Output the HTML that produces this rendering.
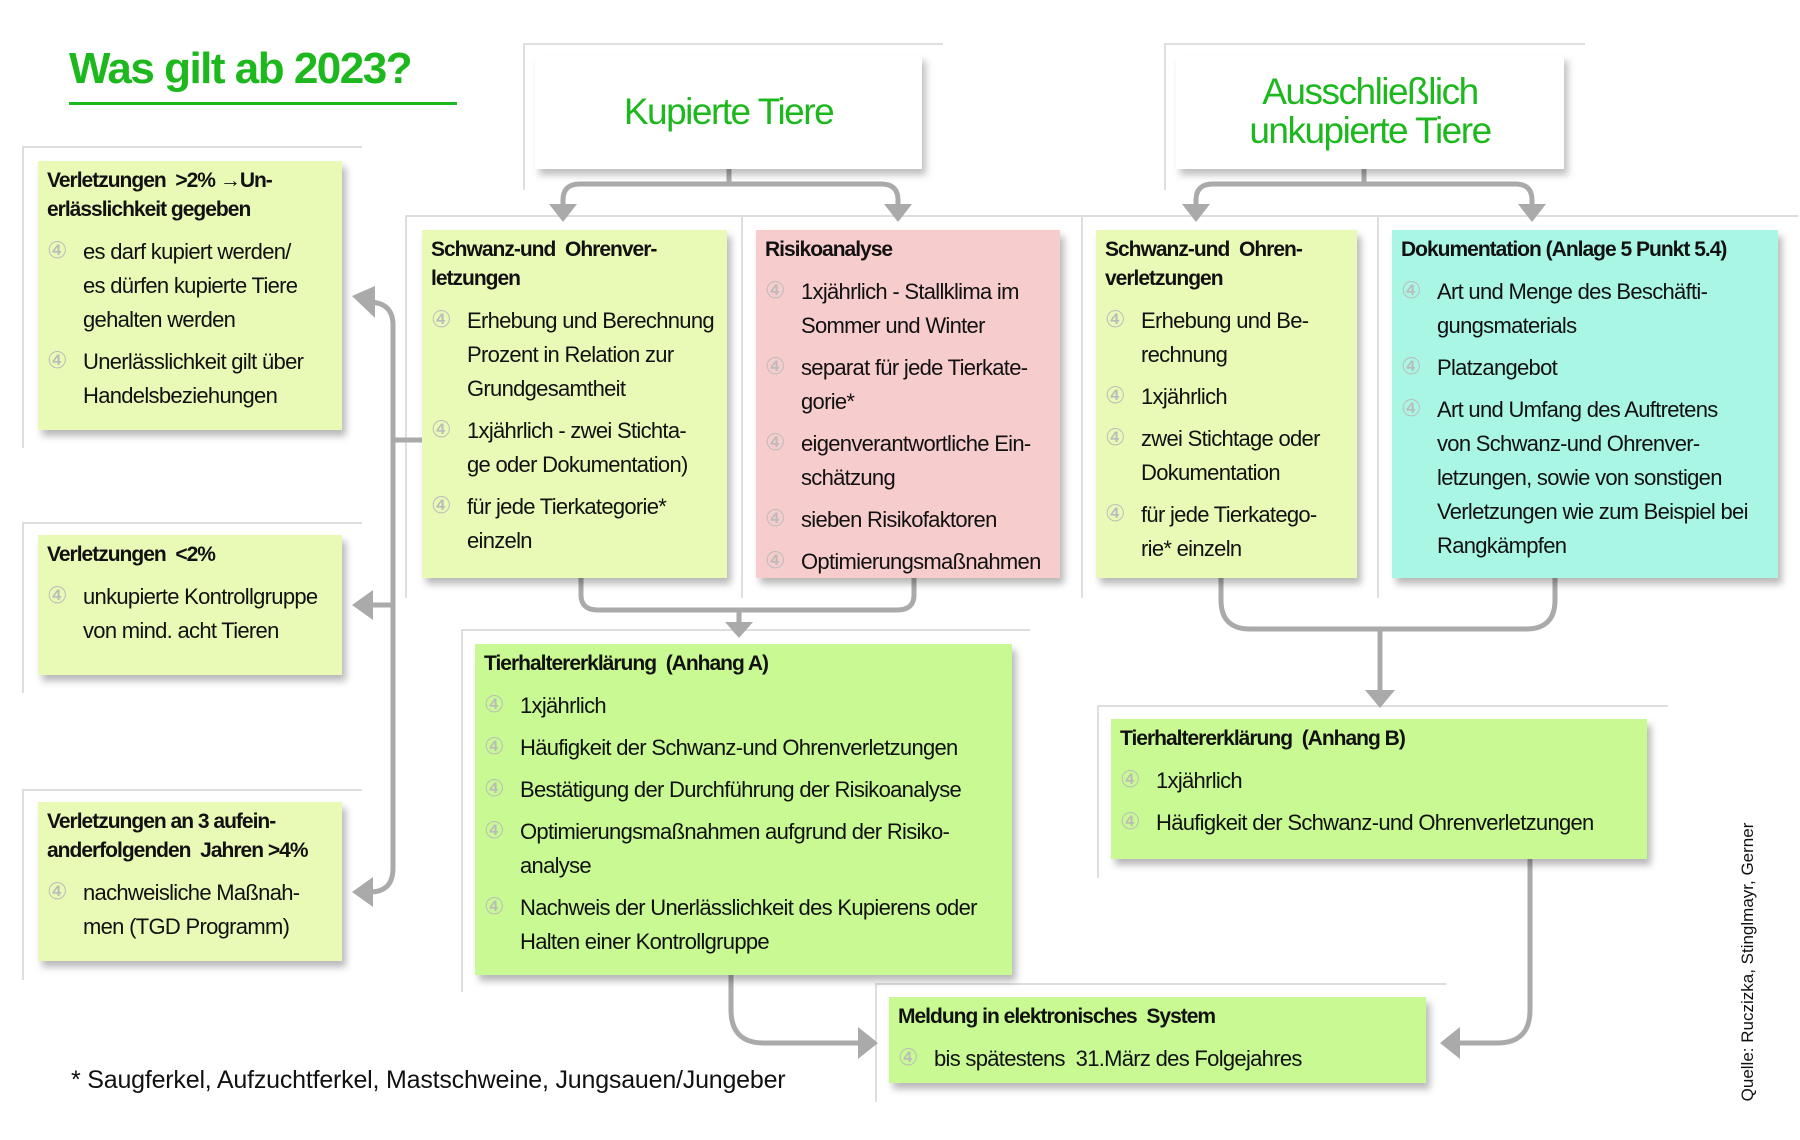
<!DOCTYPE html>
<html><head><meta charset="utf-8">
<style>
html,body{margin:0;padding:0;background:#fff;}
body{width:1800px;height:1140px;position:relative;overflow:hidden;font-family:"Liberation Sans",Arial,sans-serif;color:#111;}
.box{position:absolute;box-shadow:4px 6px 7px rgba(0,0,0,0.28);box-sizing:border-box;padding:5px 6px 0 9px;}
.h{font-weight:bold;font-size:21px;line-height:29px;letter-spacing:-1px;white-space:nowrap;}
.b{position:relative;padding-left:36px;font-size:22px;line-height:34px;letter-spacing:-0.7px;white-space:nowrap;margin-top:8px;}
.h + .b{margin-top:11px;}
.b:before{content:"④";position:absolute;left:0;top:-1px;color:#bbb;font-family:"DejaVu Sans",sans-serif;font-size:23px;}
.y{background:#e9f9b6;}
.p{background:#f7cccc;}
.c{background:#a9f6e5;}
.g{background:#c8f993;}
.top{position:absolute;background:#fff;box-shadow:4px 6px 7px rgba(0,0,0,0.25);color:#1db81e;text-align:center;font-size:37px;letter-spacing:-1.5px;}
</style></head><body>
<svg width="1800" height="1140" style="position:absolute;left:0;top:0" xmlns="http://www.w3.org/2000/svg">
<g stroke="#dedede" stroke-width="2" fill="none">
<path d="M524,190 V44 H943"/>
<path d="M1165,190 V44 H1585"/>
<path d="M23,448 V147 H362"/>
<path d="M23,693 V523 H362"/>
<path d="M23,980 V790 H362"/>
<path d="M406,598 V216 H1798"/>
<path d="M742,216 V598"/><path d="M1082,216 V598"/><path d="M1378,216 V598"/>
<path d="M462,992 V630 H1030"/>
<path d="M1098,878 V706 H1668"/>
<path d="M876,1102 V984 H1446"/>
</g>
<g stroke="#aaa" stroke-width="5" fill="none">
<path d="M729,169 V184"/>
<path d="M563,206 V200 Q563,184 580,184 H881 Q898,184 898,200 V206"/>
<path d="M1364,169 V184"/>
<path d="M1196,206 V200 Q1196,184 1213,184 H1515 Q1532,184 1532,200 V206"/>
<path d="M368,302 Q393,302 393,325 V868 Q393,892 370,892"/>
<path d="M393,440 H422"/>
<path d="M393,605 H370"/>
<path d="M581,578 V595 Q581,610 598,610 H897 Q914,610 914,595 V578"/>
<path d="M739,610 V624"/>
<path d="M1221,578 V600 Q1221,629 1250,629 H1526 Q1555,629 1555,600 V578"/>
<path d="M1380,629 V692"/>
<path d="M731,975 V1010 Q731,1043 764,1043 H860"/>
<path d="M1530,859 V1010 Q1530,1043 1497,1043 H1455"/>
</g>
<g fill="#aaa">
<polygon points="549,204 577,204 563,222"/>
<polygon points="884,204 912,204 898,222"/>
<polygon points="1182,204 1210,204 1196,222"/>
<polygon points="1518,204 1546,204 1532,222"/>
<polygon points="375,286 375,318 352,296"/>
<polygon points="373,590 373,620 352,605"/>
<polygon points="373,877 373,907 352,892"/>
<polygon points="725,622 753,622 739,638"/>
<polygon points="1365,690 1395,690 1380,708"/>
<polygon points="858,1027 858,1059 878,1043"/>
<polygon points="1460,1027 1460,1059 1440,1043"/>
</g>
</svg>

<div style="position:absolute;left:69px;top:43px;font-size:44px;font-weight:bold;color:#1db81e;letter-spacing:-1.5px;line-height:52px;">Was gilt ab 2023?</div>
<div style="position:absolute;left:69px;top:102px;width:388px;height:3px;background:#1db81e;"></div>

<div class="top" style="left:535px;top:55px;width:387px;height:114px;line-height:114px;">Kupierte Tiere</div>
<div class="top" style="left:1176px;top:55px;width:388px;height:114px;line-height:39px;padding-top:17px;box-sizing:border-box;">Ausschließlich<br>unkupierte Tiere</div>

<div class="box y" style="left:38px;top:161px;width:304px;height:269px;">
<div class="h">Verletzungen &nbsp;&gt;2% →Un-<br>erlässlichkeit gegeben</div>
<div class="b">es darf kupiert werden/<br>es dürfen kupierte Tiere<br>gehalten werden</div>
<div class="b">Unerlässlichkeit gilt über<br>Handelsbeziehungen</div>
</div>
<div class="box y" style="left:38px;top:535px;width:304px;height:140px;">
<div class="h">Verletzungen &nbsp;&lt;2%</div>
<div class="b">unkupierte Kontrollgruppe<br>von mind. acht Tieren</div>
</div>
<div class="box y" style="left:38px;top:802px;width:304px;height:159px;">
<div class="h">Verletzungen an 3 aufein-<br>anderfolgenden &nbsp;Jahren &gt;4%</div>
<div class="b">nachweisliche Maßnah-<br>men (TGD Programm)</div>
</div>

<div class="box y" style="left:422px;top:230px;width:305px;height:348px;">
<div class="h">Schwanz-und &nbsp;Ohrenver-<br>letzungen</div>
<div class="b">Erhebung und Berechnung<br>Prozent in Relation zur<br>Grundgesamtheit</div>
<div class="b">1xjährlich - zwei Stichta-<br>ge oder Dokumentation)</div>
<div class="b">für jede Tierkategorie*<br>einzeln</div>
</div>
<div class="box p" style="left:756px;top:230px;width:304px;height:348px;">
<div class="h">Risikoanalyse</div>
<div class="b">1xjährlich - Stallklima im<br>Sommer und Winter</div>
<div class="b">separat für jede Tierkate-<br>gorie*</div>
<div class="b">eigenverantwortliche Ein-<br>schätzung</div>
<div class="b">sieben Risikofaktoren</div>
<div class="b">Optimierungsmaßnahmen</div>
</div>
<div class="box y" style="left:1096px;top:230px;width:261px;height:348px;">
<div class="h">Schwanz-und &nbsp;Ohren-<br>verletzungen</div>
<div class="b">Erhebung und Be-<br>rechnung</div>
<div class="b">1xjährlich</div>
<div class="b">zwei Stichtage oder<br>Dokumentation</div>
<div class="b">für jede Tierkatego-<br>rie* einzeln</div>
</div>
<div class="box c" style="left:1392px;top:230px;width:386px;height:348px;">
<div class="h">Dokumentation (Anlage 5 Punkt 5.4)</div>
<div class="b">Art und Menge des Beschäfti-<br>gungsmaterials</div>
<div class="b">Platzangebot</div>
<div class="b">Art und Umfang des Auftretens<br>von Schwanz-und Ohrenver-<br>letzungen, sowie von sonstigen<br>Verletzungen wie zum Beispiel bei<br>Rangkämpfen</div>
</div>

<div class="box g" style="left:475px;top:644px;width:537px;height:331px;">
<div class="h">Tierhaltererklärung &nbsp;(Anhang A)</div>
<div class="b">1xjährlich</div>
<div class="b">Häufigkeit der Schwanz-und Ohrenverletzungen</div>
<div class="b">Bestätigung der Durchführung der Risikoanalyse</div>
<div class="b">Optimierungsmaßnahmen aufgrund der Risiko-<br>analyse</div>
<div class="b">Nachweis der Unerlässlichkeit des Kupierens oder<br>Halten einer Kontrollgruppe</div>
</div>
<div class="box g" style="left:1111px;top:719px;width:536px;height:140px;">
<div class="h">Tierhaltererklärung &nbsp;(Anhang B)</div>
<div class="b">1xjährlich</div>
<div class="b">Häufigkeit der Schwanz-und Ohrenverletzungen</div>
</div>
<div class="box g" style="left:889px;top:997px;width:537px;height:86px;">
<div class="h">Meldung in elektronisches &nbsp;System</div>
<div class="b">bis spätestens &nbsp;31.März des Folgejahres</div>
</div>

<div style="position:absolute;left:71px;top:1065px;font-size:25px;letter-spacing:-0.2px;line-height:30px;white-space:nowrap;">* Saugferkel, Aufzuchtferkel, Mastschweine, Jungsauen/Jungeber</div>
<div style="position:absolute;left:1748px;top:962px;transform:translate(-50%,-50%) rotate(-90deg);font-size:17px;white-space:nowrap;">Quelle: Ruczizka, Stinglmayr, Gerner</div>
</body></html>
